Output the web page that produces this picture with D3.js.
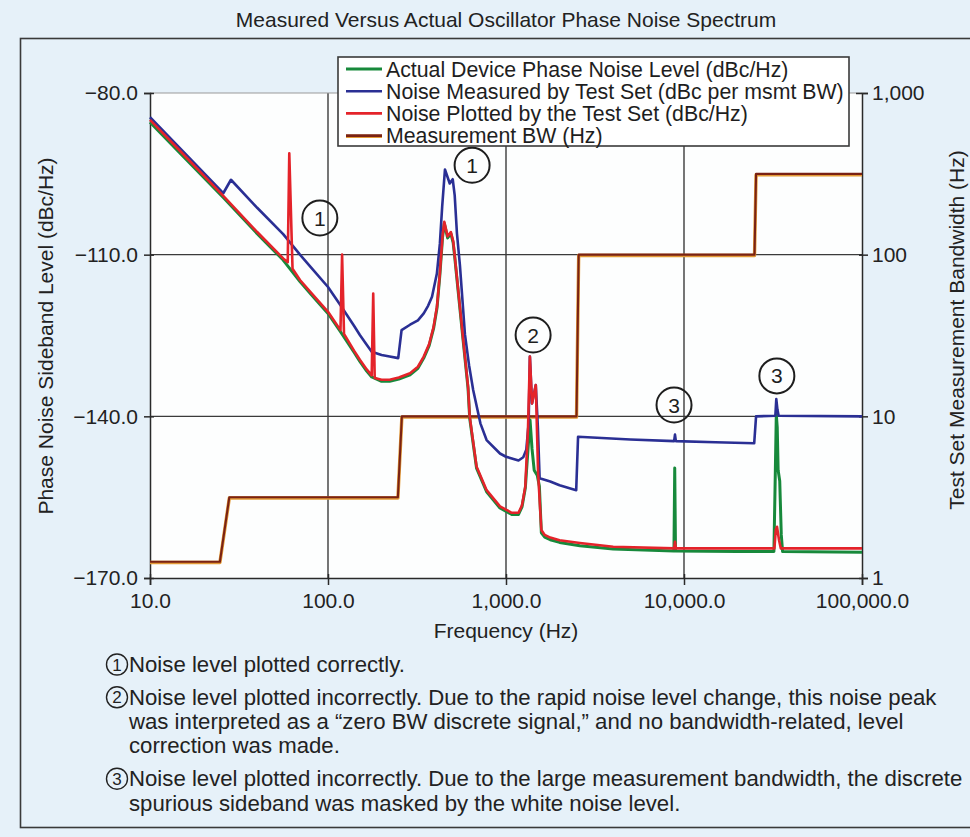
<!DOCTYPE html>
<html>
<head>
<meta charset="utf-8">
<script src="https://cdn.jsdelivr.net/npm/d3@7"></script>
<style>
  html, body { margin: 0; padding: 0; background: #e6f1f9; }
  svg { display: block; font-family: "Liberation Sans", Arial, Helvetica, sans-serif; }
</style>
</head>
<body>
<svg id="chart" width="970" height="837"></svg>
<script>
// Frequency offset (Hz) vs. level (dBc/Hz) for each trace
const actualLevel = [
  [10,-85.4],[15,-91.4],[25.8,-99.4],[40,-106.1],[56,-111.0],[69.6,-115.0],[80,-117.3],[100,-120.9],
  [117.5,-124.3],[140,-128.1],[151,-129.8],[165,-131.6],[176,-132.7],[200,-133.5],[222,-133.5],
  [250,-133.1],[289,-132.3],[320,-131.1],[345,-129.2],[370,-126.9],[392,-123.7],[410,-119.8],
  [425,-113.8],[440,-106.8],[450,-104.2],[470,-106.9],[490,-106.1],[505,-107.8],[516,-110.7],
  [539,-116.9],[575,-126.1],[612,-134.8],[625,-140.3],[683,-149.6],[778,-154.0],[925,-157.0],
  [1077,-158.2],[1176,-158.2],[1230,-156.8],[1284,-153.3],[1330,-146.0],[1365,-140.7],[1400,-146.0],
  [1440,-150.0],[1500,-151.0],[1540,-153.0],[1580,-161.6],[1650,-162.4],[1772,-162.9],[2000,-163.4],
  [2600,-164.0],[4000,-164.6],[8780,-165.0],[8870,-149.6],[8960,-165.0],[20000,-165.1],
  [32000,-165.1],[32600,-150.0],[33000,-139.7],[33400,-142.0],[33800,-150.0],[34500,-152.0],
  [35200,-162.0],[35800,-165.1],[100000,-165.2]
];

const measuredLevel = [
  [10,-84.5],[15,-90.5],[25.8,-98.6],[28.5,-96.1],[40,-101.3],[56,-106.2],[69.6,-110.0],[80,-112.3],
  [100,-116.0],[117.5,-119.4],[140,-123.2],[151,-124.9],[165,-126.7],[176,-128.0],[200,-128.6],
  [222,-128.9],[248,-129.2],[259,-124.0],[289,-123.0],[320,-122.2],[345,-120.9],[365,-119.5],
  [384,-117.8],[409,-113.5],[425,-108.0],[438,-101.1],[454,-94.2],[483,-96.8],[502,-96.0],
  [515,-99.0],[530,-106.0],[551,-112.0],[588,-124.8],[620,-130.5],[654,-135.1],[718,-141.3],
  [778,-144.4],[925,-146.9],[1000,-147.5],[1176,-148.2],[1250,-147.6],[1300,-146.2],[1340,-141.3],
  [1362,-128.9],[1400,-137.6],[1470,-134.2],[1510,-142.0],[1545,-151.5],[1772,-152.1],[2000,-152.8],
  [2480,-153.7],[2540,-143.8],[5000,-144.3],[8800,-144.6],[8900,-143.4],[9000,-144.6],[15000,-144.8],
  [24800,-145.0],[25400,-140.0],[32600,-139.9],[33000,-136.8],[33500,-138.8],[34000,-139.9],
  [100000,-140.0]
];

const plottedLevel = [
  [10,-85.0],[15,-91.0],[25.8,-99.1],[40,-105.8],[56,-110.7],[59.4,-111.4],[60.6,-91.2],[63.2,-112.6],
  [69.6,-114.7],[80,-117.0],[100,-120.6],[117.5,-124.0],[120,-110.0],[123,-124.7],[140,-127.8],
  [151,-129.5],[165,-131.3],[176,-132.4],[179.5,-117.2],[183,-132.9],[200,-133.2],[222,-133.2],
  [250,-132.8],[289,-132.0],[320,-130.8],[345,-128.9],[370,-126.6],[392,-123.4],[410,-119.5],
  [425,-113.5],[440,-106.5],[450,-103.9],[470,-106.6],[490,-105.8],[505,-107.5],[516,-110.4],
  [539,-116.6],[575,-125.8],[612,-134.5],[625,-140.0],[683,-149.3],[778,-153.7],[925,-156.7],
  [1077,-157.9],[1176,-157.9],[1230,-156.5],[1284,-153.0],[1330,-142.0],[1362,-128.9],[1400,-137.6],
  [1470,-134.2],[1515,-150.6],[1580,-161.1],[1650,-162.0],[1772,-162.5],[2000,-163.0],[2600,-163.5],
  [4000,-164.2],[8800,-164.5],[8900,-163.3],[9000,-164.5],[20000,-164.5],[32200,-164.5],
  [32800,-161.0],[33300,-160.5],[34200,-163.0],[35000,-164.5],[100000,-164.5]
];

// Measurement bandwidth (Hz) used by the test set at each offset
const measurementBW = [
  [10,1.26],[24.7,1.26],[27.9,3.16],[247,3.16],[260,10],[2490,10],[2560,100],
  [24900,100],[25400,316],[100000,316]
];

// Axis ticks and labels
const freqTicks = [10, 100, 1000, 10000, 100000];
const freqTickLabels = ["10.0", "100.0", "1,000.0", "10,000.0", "100,000.0"];
const levelTicks = [-80, -110, -140, -170];
const levelTickLabels = ["\u221280.0", "\u2212110.0", "\u2212140.0", "\u2212170.0"];
const bwTicks = [1, 10, 100, 1000];
const bwTickLabels = ["1", "10", "100", "1,000"];

const legendNames = [
  "Actual Device Phase Noise Level (dBc/Hz)",
  "Noise Measured by Test Set (dBc per msmt BW)",
  "Noise Plotted by the Test Set (dBc/Hz)",
  "Measurement BW (Hz)"
];

// Circled callouts: [frequency, level, label]
const callouts = [
  [90, -103.2, "1"], [645, -93.4, "1"], [1420, -124.9, "2"], [8790, -137.9, "3"], [33240, -132.5, "3"]
];

const notes = [
  ["1", ["Noise level plotted correctly."]],
  ["2", ["Noise level plotted incorrectly. Due to the rapid noise level change, this noise peak",
         "was interpreted as a \u201Czero BW discrete signal,\u201D and no bandwidth-related, level",
         "correction was made."]],
  ["3", ["Noise level plotted incorrectly. Due to the large measurement bandwidth, the discrete",
         "spurious sideband was masked by the white noise level."]]
];

const colors = { actual: "#17893b", measured: "#2a2f94", plotted: "#e4232a", bw: "#7a2214", bwEdge: "#e39a36" };

const svg = d3.select("#chart");
const plotLeft = 150, plotRight = 862, plotTop = 93, plotBottom = 578;

const x = d3.scaleLog().domain([10, 100000]).range([plotLeft, plotRight]);
const y = d3.scaleLinear().domain([-170, -80]).range([plotBottom, plotTop]);
const yBW = d3.scaleLog().domain([1, 1000]).range([plotBottom, plotTop]);

// Outer frame
svg.append("rect").attr("x", 20.5).attr("y", 38.5).attr("width", 1000).attr("height", 789)
  .attr("fill", "none").attr("stroke", "#3a3a3a").attr("stroke-width", 1.6);

// Title
svg.append("text").attr("x", 506).attr("y", 27).attr("text-anchor", "middle")
  .attr("font-size", 21).attr("fill", "#222").text("Measured Versus Actual Oscillator Phase Noise Spectrum");

// Plot background
svg.append("rect").attr("x", plotLeft).attr("y", plotTop).attr("width", plotRight - plotLeft)
  .attr("height", plotBottom - plotTop).attr("fill", "#fdfefe");

// Grid
const grid = svg.append("g").attr("stroke", "#3b3b3b").attr("stroke-width", 1.4);
grid.selectAll("line.v").data(freqTicks.slice(1, -1)).join("line")
  .attr("x1", d => x(d)).attr("x2", d => x(d)).attr("y1", plotTop).attr("y2", plotBottom);
grid.selectAll("line.h").data(levelTicks.slice(1, -1)).join("line")
  .attr("x1", plotLeft).attr("x2", plotRight).attr("y1", d => y(d)).attr("y2", d => y(d));
svg.append("line").attr("x1", plotLeft).attr("x2", plotRight).attr("y1", plotTop).attr("y2", plotTop)
  .attr("stroke", "#9a9a9a").attr("stroke-width", 1.2);

// Axes
const axisFont = 21;
const gLeft = svg.append("g").attr("transform", `translate(${plotLeft},0)`)
  .call(d3.axisLeft(y).tickValues(levelTicks).tickFormat((d, i) => levelTickLabels[i]).tickSize(6).tickPadding(6));
const gBottom = svg.append("g").attr("transform", `translate(0,${plotBottom})`)
  .call(d3.axisBottom(x).tickValues(freqTicks).tickFormat((d, i) => freqTickLabels[i]).tickSize(7).tickPadding(8));
const gRight = svg.append("g").attr("transform", `translate(${plotRight},0)`)
  .call(d3.axisRight(yBW).tickValues(bwTicks).tickFormat((d, i) => bwTickLabels[i]).tickSize(6).tickPadding(4));
[gLeft, gBottom, gRight].forEach(g => {
  g.select(".domain").attr("stroke", "#2a2a2a").attr("stroke-width", 1.5);
  g.selectAll(".tick line").attr("stroke", "#2a2a2a").attr("stroke-width", 1.5);
  g.selectAll(".tick text").attr("font-size", axisFont).attr("fill", "#222")
    .attr("font-family", "'Liberation Sans', Arial, Helvetica, sans-serif");
});
// ticks cross the axis line
gLeft.selectAll(".tick line").attr("x1", 4);
gBottom.selectAll(".tick line").attr("y1", -4);
gRight.selectAll(".tick line").attr("x1", d => d === 1000 ? -6 : -3);

svg.append("text").attr("x", 506).attr("y", 638).attr("text-anchor", "middle")
  .attr("font-size", 21).attr("fill", "#222").text("Frequency (Hz)");
svg.append("text").attr("transform", "translate(53,336) rotate(-90)").attr("text-anchor", "middle")
  .attr("font-size", 21).attr("fill", "#222").text("Phase Noise Sideband Level (dBc/Hz)");
svg.append("text").attr("transform", "translate(964,330) rotate(-90)").attr("text-anchor", "middle")
  .attr("font-size", 21).attr("fill", "#222").text("Test Set Measurement Bandwidth (Hz)");

// Traces
const levelLine = d3.line().x(d => x(d[0])).y(d => y(d[1]));
const bwLine = d3.line().x(d => x(d[0])).y(d => yBW(d[1]));
const traces = svg.append("g").attr("fill", "none").attr("stroke-linejoin", "round");

traces.append("path").datum(measurementBW).attr("d", bwLine)
  .attr("stroke", colors.bwEdge).attr("stroke-width", 3.4).attr("transform", "translate(0,0.8)");
traces.append("path").datum(measurementBW).attr("d", bwLine)
  .attr("stroke", colors.bw).attr("stroke-width", 2.1);
traces.append("path").datum(actualLevel).attr("d", levelLine)
  .attr("stroke", colors.actual).attr("stroke-width", 3);
traces.append("path").datum(measuredLevel).attr("d", levelLine)
  .attr("stroke", colors.measured).attr("stroke-width", 2.6);
traces.append("path").datum(plottedLevel).attr("d", levelLine)
  .attr("stroke", colors.plotted).attr("stroke-width", 2.6);

// Callout circles
const co = svg.append("g").selectAll("g").data(callouts).join("g")
  .attr("transform", d => `translate(${x(d[0])},${y(d[1])})`);
co.append("circle").attr("r", 17.5).attr("fill", "none").attr("stroke", "#1e1e1e").attr("stroke-width", 2);
co.append("text").attr("text-anchor", "middle").attr("dy", "0.36em").attr("font-size", 21)
  .attr("fill", "#1e1e1e").text(d => d[2]);

// Legend
const lg = svg.append("g").attr("transform", "translate(338,57)");
lg.append("rect").attr("width", 511).attr("height", 89).attr("fill", "#ffffff")
  .attr("stroke", "#3a3a3a").attr("stroke-width", 1.6);
const legendColors = [colors.actual, colors.measured, colors.plotted, colors.bw];
legendNames.forEach((name, i) => {
  const cy = 12 + i * 22.2;
  if (i === 3) {
    lg.append("line").attr("x1", 8).attr("x2", 44).attr("y1", cy + 0.8).attr("y2", cy + 0.8)
      .attr("stroke", colors.bwEdge).attr("stroke-width", 3.4);
  }
  lg.append("line").attr("x1", 8).attr("x2", 44).attr("y1", cy).attr("y2", cy)
    .attr("stroke", legendColors[i]).attr("stroke-width", i === 0 ? 3 : 2.6);
  lg.append("text").attr("x", 48).attr("y", cy + 7.5).attr("font-size", 21.3).attr("fill", "#1e1e1e").text(name);
});

// Notes under the chart
let ny = 672;
notes.forEach(([num, lines]) => {
  const g = svg.append("g");
  g.append("circle").attr("cx", 117).attr("cy", ny - 7.5).attr("r", 10.5)
    .attr("fill", "none").attr("stroke", "#222").attr("stroke-width", 1.4);
  g.append("text").attr("x", 117).attr("y", ny - 1.5).attr("text-anchor", "middle")
    .attr("font-size", 17).attr("fill", "#222").text(num);
  lines.forEach((t, j) => {
    g.append("text").attr("x", 129).attr("y", ny + j * 24.3).attr("font-size", 22.2)
      .attr("fill", "#222").text(t);
  });
  ny += lines.length * 24.3 + 8.5;
});
</script>
</body>
</html>
